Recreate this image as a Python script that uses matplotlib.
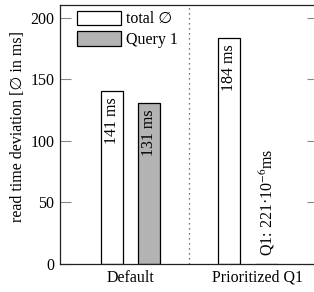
import matplotlib
matplotlib.use("Agg")
import matplotlib.pyplot as plt
from matplotlib.patches import Patch

plt.rcParams['font.family'] = ['Liberation Serif', 'DejaVu Sans']
plt.rcParams['mathtext.fontset'] = 'stix'
FS = 11.5

categories = ["Default", "Prioritized Q1"]
series_names = ["total \u2205", "Query 1"]
total_vals = [141, 184]
query1_vals = [131, 221e-6]
total_labels = ["141 ms", "184 ms"]
query1_labels = ["131 ms", "Q1: 221\u00b710$^{-6}$ms"]
yticks = [0, 50, 100, 150, 200]

fig = plt.figure(figsize=(3.14, 2.92), dpi=100)
ax = fig.add_axes([60/314, 28/292, 258/314, 259/292])

cat_x = [0, 1]
total_x = [-0.142, 0.78]
query_x = [0.146, 1.08]
w = 0.173
gray = '#b3b3b3'

ax.bar(total_x, total_vals, width=w, color='white', edgecolor='black', linewidth=0.9, zorder=2)
ax.bar(query_x, query1_vals, width=w, color=gray, edgecolor='black', linewidth=0.9, zorder=2)

for x, v, lab in zip(total_x, total_vals, total_labels):
    ax.annotate(lab, (x, v), xytext=(0, -4.5), textcoords='offset points',
                rotation=90, ha='center', va='top', fontsize=FS)
ax.annotate(query1_labels[0], (query_x[0], query1_vals[0]), xytext=(0, -4.5), textcoords='offset points',
            rotation=90, ha='center', va='top', fontsize=FS)
ax.annotate(query1_labels[1], (query_x[1], query1_vals[1]), xytext=(0, 6), textcoords='offset points',
            rotation=90, ha='center', va='bottom', fontsize=FS)

ax.axvline(0.465, color='#444444', linestyle=(0, (1, 3)), linewidth=0.9, zorder=1)

ax.set_xlim(-0.551, 1.48)
ax.set_ylim(0, 210.5)
ax.set_xticks(cat_x)
ax.set_xticklabels(categories, fontsize=FS)
ax.set_yticks(yticks)
ax.set_yticklabels([str(t) for t in yticks], fontsize=FS)
ax.tick_params(axis='x', length=0, pad=4)
ax.tick_params(axis='y', direction='in', length=8, width=0.8, color='#888888', right=True, pad=4)
ax.set_ylabel("read time deviation [\u2205 in ms]", fontsize=FS)
ax.yaxis.set_label_coords(-34 / 258, 0.53)
for s in ax.spines.values():
    s.set_linewidth(0.9)
    s.set_color('#222222')

handles = [Patch(facecolor='white', edgecolor='black', linewidth=0.9),
           Patch(facecolor=gray, edgecolor='black', linewidth=0.9)]
leg = ax.legend(handles, series_names, loc='upper left', bbox_to_anchor=(0.052, 0.99),
                frameon=False, fontsize=FS, handlelength=2.8, handleheight=1.0,
                handletextpad=0.3, labelspacing=0.25, borderpad=0.2, borderaxespad=0)

fig.savefig("out.png", dpi=100)
